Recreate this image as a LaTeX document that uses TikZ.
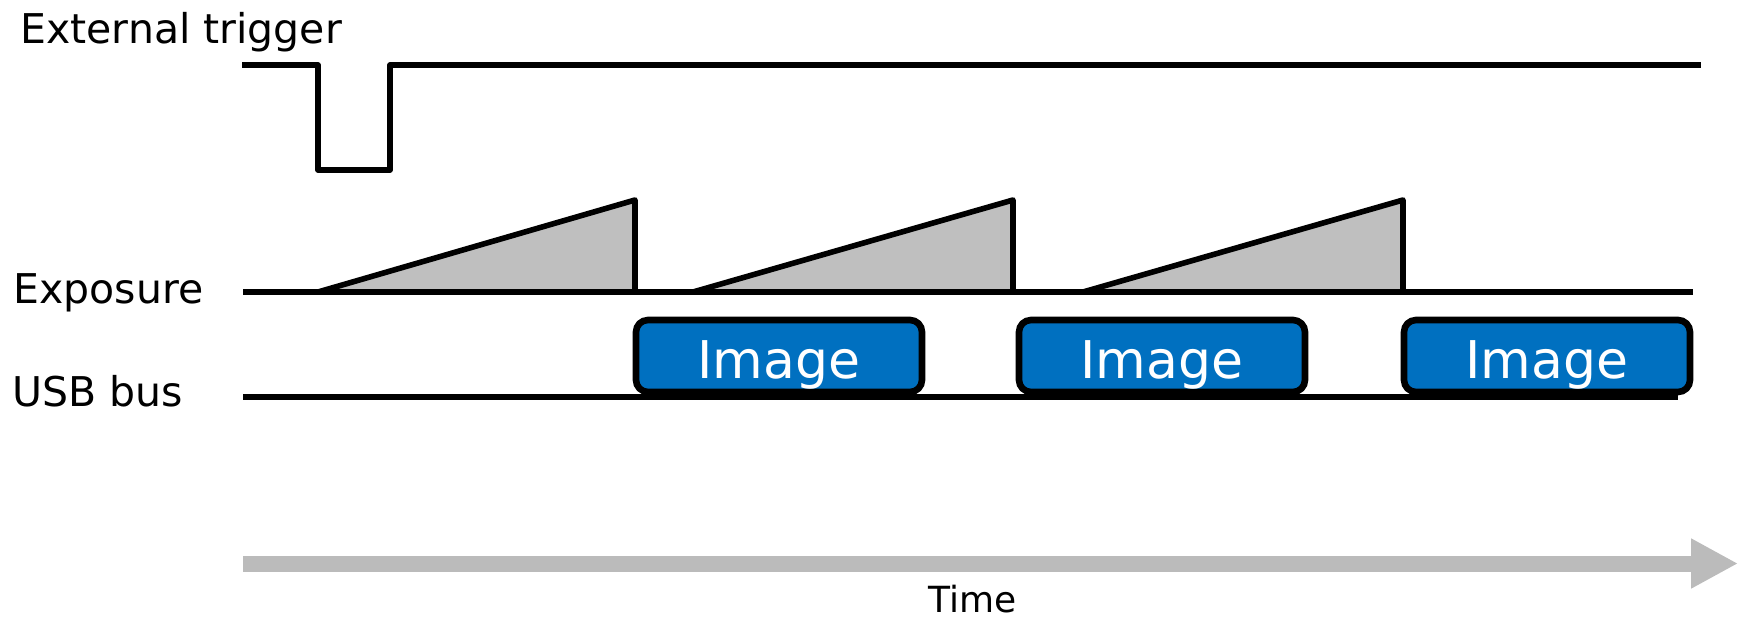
\documentclass[tikz,border=0pt]{standalone}
\usepackage{fontspec}
\setmainfont{DejaVu Sans}
\usepackage{xcolor}
\usepackage{tikz}
\usetikzlibrary{arrows.meta}

\definecolor{imageblue}{RGB}{0,112,192}
\definecolor{rampgray}{RGB}{191,191,191}
\definecolor{axisgray}{RGB}{187,187,187}

\tikzset{
    signal/.style={line width=2.8pt, line join=round},
    ramp/.style={signal, fill=rampgray},
    image box/.style={draw, line width=3.3pt, fill=imageblue, rounded corners=6pt,
        minimum width=143pt, minimum height=36pt, inner sep=0pt, text=white,
        font=\fontsize{26}{30}\selectfont, text height=22.9pt, text depth=0pt},
    row label/.style={anchor=base west, inner sep=0pt, font=\fontsize{20.5}{24}\selectfont},
    time axis/.style={axisgray, line width=8pt, -{Triangle[length=23.5pt, width=23.5pt]}},
}

\begin{document}
\begin{tikzpicture}[x=0.5pt, y=-0.5pt]
        \useasboundingbox (0, 0) rectangle (1746, 617);

        \node (trigger label) [row label] at (20, 43) {External trigger};
        \node (exposure label) [row label] at (13, 303) {Exposure};
        \node (usb label) [row label] at (12, 406) {USB bus};

        \draw [signal] (242, 65) -| (318, 170) -| (390, 65) -- (1701, 65);

        \foreach \s/\e in {318/635, 693/1013, 1083/1403}
            \filldraw [ramp] (\s, 292) -- (\e, 200) -- (\e, 292) -- cycle;
        \draw [signal] (243, 292) -- (1693, 292);

        \draw [signal] (243, 397) -- (1678, 397);
        \node (image 1) [image box] at (779, 356) {Image};
        \node (image 2) [image box] at (1162, 356) {Image};
        \node (image 3) [image box] at (1547, 356) {Image};

        \coordinate (time start) at (243, 563.5);
        \coordinate (time end) at (1738, 563.5);
        \draw [time axis] (time start) -- (time end);
        \node (time label) [anchor=base, inner sep=0pt, font=\fontsize{18}{22}\selectfont] at (973, 612) {Time};
    \end{tikzpicture}
\end{document}
